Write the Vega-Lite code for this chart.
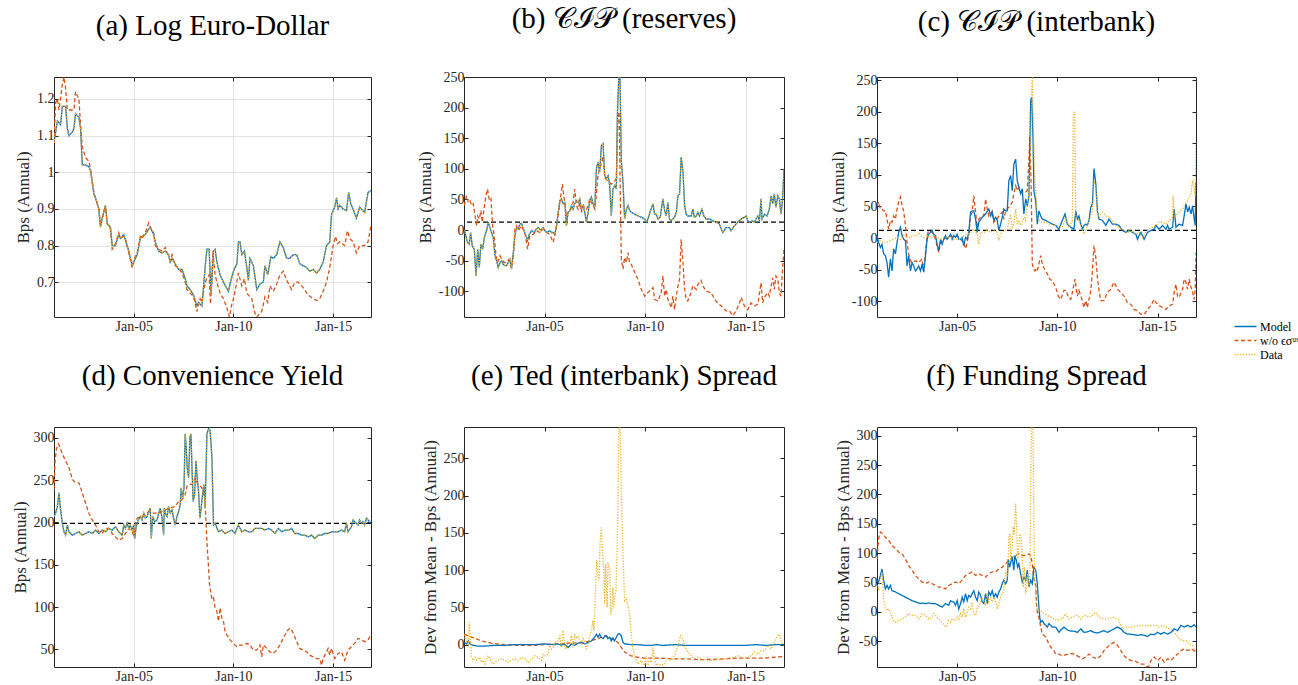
{
"$schema": "https://vega.github.io/schema/vega-lite/v6.json",
"padding": {"left": 10, "top": 4, "right": 5, "bottom": 5},
"background": "white",
"config": {
  "font": "Liberation Serif",
  "view": {"stroke": "#262626", "strokeWidth": 1},
  "axis": {"domain": false, "tickColor": "#262626", "tickSize": -4, "labelFont": "Liberation Serif", "labelFontSize": 14, "labelColor": "#262626", "titleFont": "Liberation Serif", "titleFontSize": 17, "titleFontWeight": "normal", "titleColor": "#262626", "gridColor": "#e3e3e3", "labelPadding": 4},
  "axisBottom": {"labelPadding": 6},
  "title": {"font": "Liberation Serif", "fontSize": 29, "fontWeight": "normal", "color": "#000000", "offset": 36, "baseline": "alphabetic"},
  "legend": {"orient": "none", "legendX": 362, "legendY": 243, "title": null, "symbolType": "M-2,0H2", "symbolSize": 121, "symbolStrokeWidth": 1.3, "labelFont": "Liberation Serif", "labelFontSize": 12, "labelColor": "#000000", "rowPadding": 1, "padding": 0, "labelOffset": 8}
},
"datasets": {
"a_m": [{"t":2001,"v":1.08},{"t":2001.17,"v":1.14},{"t":2001.33,"v":1.13},{"t":2001.42,"v":1.18},{"t":2001.58,"v":1.18},{"t":2001.67,"v":1.12},{"t":2001.75,"v":1.1},{"t":2001.92,"v":1.11},{"t":2002,"v":1.12},{"t":2002.08,"v":1.16},{"t":2002.25,"v":1.15},{"t":2002.33,"v":1.12},{"t":2002.42,"v":1.02},{"t":2002.58,"v":1.02},{"t":2002.75,"v":1.015},{"t":2002.83,"v":1.005},{"t":2003,"v":0.94},{"t":2003.08,"v":0.93},{"t":2003.25,"v":0.9},{"t":2003.33,"v":0.85},{"t":2003.42,"v":0.875},{"t":2003.58,"v":0.91},{"t":2003.67,"v":0.86},{"t":2003.83,"v":0.85},{"t":2003.92,"v":0.8},{"t":2004.08,"v":0.8},{"t":2004.25,"v":0.83},{"t":2004.33,"v":0.82},{"t":2004.5,"v":0.83},{"t":2004.58,"v":0.815},{"t":2004.75,"v":0.785},{"t":2004.92,"v":0.745},{"t":2005,"v":0.755},{"t":2005.17,"v":0.775},{"t":2005.33,"v":0.82},{"t":2005.42,"v":0.825},{"t":2005.58,"v":0.83},{"t":2005.75,"v":0.845},{"t":2005.83,"v":0.85},{"t":2006,"v":0.83},{"t":2006.08,"v":0.81},{"t":2006.25,"v":0.785},{"t":2006.42,"v":0.78},{"t":2006.58,"v":0.785},{"t":2006.75,"v":0.775},{"t":2006.83,"v":0.755},{"t":2006.92,"v":0.765},{"t":2007.08,"v":0.75},{"t":2007.25,"v":0.735},{"t":2007.42,"v":0.735},{"t":2007.58,"v":0.71},{"t":2007.67,"v":0.69},{"t":2007.83,"v":0.68},{"t":2008,"v":0.665},{"t":2008.17,"v":0.635},{"t":2008.25,"v":0.645},{"t":2008.42,"v":0.635},{"t":2008.58,"v":0.74},{"t":2008.67,"v":0.79},{"t":2008.78,"v":0.79},{"t":2008.88,"v":0.665},{"t":2009,"v":0.785},{"t":2009.08,"v":0.79},{"t":2009.17,"v":0.755},{"t":2009.33,"v":0.72},{"t":2009.5,"v":0.7},{"t":2009.75,"v":0.675},{"t":2009.83,"v":0.695},{"t":2010,"v":0.73},{"t":2010.17,"v":0.75},{"t":2010.25,"v":0.81},{"t":2010.33,"v":0.81},{"t":2010.42,"v":0.775},{"t":2010.55,"v":0.785},{"t":2010.67,"v":0.74},{"t":2010.75,"v":0.705},{"t":2010.83,"v":0.765},{"t":2011,"v":0.745},{"t":2011.17,"v":0.68},{"t":2011.33,"v":0.695},{"t":2011.5,"v":0.7},{"t":2011.58,"v":0.745},{"t":2011.72,"v":0.72},{"t":2011.88,"v":0.77},{"t":2012,"v":0.765},{"t":2012.17,"v":0.775},{"t":2012.33,"v":0.81},{"t":2012.5,"v":0.795},{"t":2012.67,"v":0.765},{"t":2012.83,"v":0.765},{"t":2013,"v":0.775},{"t":2013.17,"v":0.775},{"t":2013.33,"v":0.75},{"t":2013.5,"v":0.745},{"t":2013.67,"v":0.74},{"t":2013.83,"v":0.73},{"t":2014,"v":0.735},{"t":2014.17,"v":0.725},{"t":2014.33,"v":0.735},{"t":2014.5,"v":0.755},{"t":2014.67,"v":0.8},{"t":2014.83,"v":0.81},{"t":2014.92,"v":0.885},{"t":2015.08,"v":0.905},{"t":2015.17,"v":0.93},{"t":2015.25,"v":0.9},{"t":2015.33,"v":0.91},{"t":2015.5,"v":0.9},{"t":2015.67,"v":0.895},{"t":2015.78,"v":0.945},{"t":2015.88,"v":0.915},{"t":2016,"v":0.9},{"t":2016.17,"v":0.875},{"t":2016.33,"v":0.905},{"t":2016.5,"v":0.895},{"t":2016.58,"v":0.89},{"t":2016.75,"v":0.945},{"t":2016.9,"v":0.95}],
"a_w": [{"t":2001,"v":1.08},{"t":2001.08,"v":1.19},{"t":2001.17,"v":1.2},{"t":2001.25,"v":1.17},{"t":2001.42,"v":1.24},{"t":2001.5,"v":1.26},{"t":2001.58,"v":1.23},{"t":2001.67,"v":1.17},{"t":2001.83,"v":1.17},{"t":2002,"v":1.17},{"t":2002.08,"v":1.22},{"t":2002.25,"v":1.2},{"t":2002.33,"v":1.13},{"t":2002.42,"v":1.07},{"t":2002.58,"v":1.04},{"t":2002.75,"v":1.03},{"t":2002.83,"v":1.01},{"t":2003,"v":0.945},{"t":2003.08,"v":0.93},{"t":2003.25,"v":0.9},{"t":2003.33,"v":0.855},{"t":2003.42,"v":0.875},{"t":2003.58,"v":0.905},{"t":2003.67,"v":0.86},{"t":2003.83,"v":0.845},{"t":2003.92,"v":0.79},{"t":2004.08,"v":0.805},{"t":2004.25,"v":0.835},{"t":2004.33,"v":0.82},{"t":2004.5,"v":0.825},{"t":2004.58,"v":0.82},{"t":2004.75,"v":0.78},{"t":2004.92,"v":0.74},{"t":2005,"v":0.76},{"t":2005.17,"v":0.78},{"t":2005.33,"v":0.825},{"t":2005.42,"v":0.82},{"t":2005.58,"v":0.835},{"t":2005.75,"v":0.862},{"t":2005.83,"v":0.85},{"t":2006,"v":0.835},{"t":2006.08,"v":0.8},{"t":2006.25,"v":0.79},{"t":2006.42,"v":0.785},{"t":2006.58,"v":0.795},{"t":2006.75,"v":0.77},{"t":2006.83,"v":0.76},{"t":2006.92,"v":0.775},{"t":2007.08,"v":0.745},{"t":2007.25,"v":0.74},{"t":2007.42,"v":0.725},{"t":2007.58,"v":0.7},{"t":2007.67,"v":0.68},{"t":2007.83,"v":0.67},{"t":2008,"v":0.66},{"t":2008.17,"v":0.62},{"t":2008.33,"v":0.655},{"t":2008.42,"v":0.645},{"t":2008.58,"v":0.7},{"t":2008.67,"v":0.71},{"t":2008.78,"v":0.72},{"t":2008.85,"v":0.64},{"t":2008.97,"v":0.785},{"t":2009.08,"v":0.72},{"t":2009.17,"v":0.7},{"t":2009.33,"v":0.67},{"t":2009.5,"v":0.655},{"t":2009.67,"v":0.63},{"t":2009.8,"v":0.605},{"t":2009.92,"v":0.64},{"t":2010.03,"v":0.66},{"t":2010.25,"v":0.725},{"t":2010.42,"v":0.69},{"t":2010.55,"v":0.71},{"t":2010.67,"v":0.67},{"t":2010.92,"v":0.655},{"t":2011.08,"v":0.615},{"t":2011.17,"v":0.605},{"t":2011.42,"v":0.62},{"t":2011.58,"v":0.66},{"t":2011.72,"v":0.645},{"t":2011.83,"v":0.69},{"t":2012,"v":0.675},{"t":2012.17,"v":0.695},{"t":2012.33,"v":0.72},{"t":2012.5,"v":0.73},{"t":2012.67,"v":0.705},{"t":2012.92,"v":0.68},{"t":2013.08,"v":0.7},{"t":2013.25,"v":0.7},{"t":2013.5,"v":0.685},{"t":2013.75,"v":0.665},{"t":2014,"v":0.655},{"t":2014.17,"v":0.65},{"t":2014.33,"v":0.655},{"t":2014.5,"v":0.675},{"t":2014.67,"v":0.7},{"t":2014.83,"v":0.74},{"t":2015,"v":0.8},{"t":2015.12,"v":0.825},{"t":2015.22,"v":0.805},{"t":2015.33,"v":0.81},{"t":2015.58,"v":0.8},{"t":2015.72,"v":0.84},{"t":2015.83,"v":0.82},{"t":2016,"v":0.81},{"t":2016.17,"v":0.78},{"t":2016.33,"v":0.8},{"t":2016.58,"v":0.8},{"t":2016.75,"v":0.81},{"t":2016.9,"v":0.855}],
"b_m": [{"t":2001,"v":0},{"t":2001.05,"v":-4},{"t":2001.17,"v":-20},{"t":2001.26,"v":-23},{"t":2001.33,"v":-4},{"t":2001.41,"v":-26},{"t":2001.51,"v":-31},{"t":2001.6,"v":-75},{"t":2001.68,"v":-31},{"t":2001.76,"v":-61},{"t":2001.84,"v":-23},{"t":2001.93,"v":-31},{"t":2002.01,"v":-12},{"t":2002.12,"v":-1},{"t":2002.21,"v":13},{"t":2002.29,"v":4},{"t":2002.37,"v":-4},{"t":2002.45,"v":-12},{"t":2002.54,"v":-42},{"t":2002.62,"v":-50},{"t":2002.7,"v":-61},{"t":2002.79,"v":-53},{"t":2002.87,"v":-50},{"t":2002.95,"v":-56},{"t":2003.03,"v":-58},{"t":2003.12,"v":-58},{"t":2003.2,"v":-53},{"t":2003.28,"v":-48},{"t":2003.36,"v":-64},{"t":2003.45,"v":-37},{"t":2003.53,"v":-9},{"t":2003.61,"v":4},{"t":2003.69,"v":2},{"t":2003.78,"v":10},{"t":2003.86,"v":11},{"t":2003.94,"v":2},{"t":2004.02,"v":-4},{"t":2004.16,"v":-17},{"t":2004.24,"v":-7},{"t":2004.36,"v":-1},{"t":2004.49,"v":-4},{"t":2004.6,"v":2},{"t":2004.69,"v":4},{"t":2004.82,"v":-1},{"t":2004.93,"v":4},{"t":2005.02,"v":-1},{"t":2005.13,"v":-4},{"t":2005.26,"v":-1},{"t":2005.35,"v":-4},{"t":2005.43,"v":-4},{"t":2005.51,"v":-7},{"t":2005.6,"v":7},{"t":2005.68,"v":29},{"t":2005.76,"v":48},{"t":2005.84,"v":51},{"t":2005.93,"v":43},{"t":2006.01,"v":45},{"t":2006.09,"v":7},{"t":2006.17,"v":29},{"t":2006.26,"v":32},{"t":2006.34,"v":40},{"t":2006.42,"v":34},{"t":2006.5,"v":43},{"t":2006.59,"v":48},{"t":2006.67,"v":45},{"t":2006.75,"v":51},{"t":2006.83,"v":34},{"t":2006.92,"v":40},{"t":2007,"v":29},{"t":2007.08,"v":13},{"t":2007.17,"v":29},{"t":2007.25,"v":48},{"t":2007.33,"v":54},{"t":2007.41,"v":43},{"t":2007.5,"v":37},{"t":2007.58,"v":100},{"t":2007.66,"v":111},{"t":2007.74,"v":95},{"t":2007.83,"v":138},{"t":2007.91,"v":141},{"t":2007.99,"v":89},{"t":2008.07,"v":84},{"t":2008.16,"v":89},{"t":2008.24,"v":73},{"t":2008.32,"v":23},{"t":2008.4,"v":67},{"t":2008.49,"v":73},{"t":2008.57,"v":67},{"t":2008.62,"v":187},{"t":2008.69,"v":250},{"t":2008.75,"v":248},{"t":2008.82,"v":111},{"t":2008.9,"v":78},{"t":2008.98,"v":18},{"t":2009.07,"v":34},{"t":2009.15,"v":40},{"t":2009.23,"v":32},{"t":2009.31,"v":29},{"t":2009.48,"v":26},{"t":2009.64,"v":23},{"t":2009.81,"v":21},{"t":2009.98,"v":18},{"t":2010.06,"v":13},{"t":2010.14,"v":18},{"t":2010.27,"v":32},{"t":2010.39,"v":43},{"t":2010.47,"v":26},{"t":2010.55,"v":26},{"t":2010.64,"v":18},{"t":2010.75,"v":21},{"t":2010.88,"v":51},{"t":2010.97,"v":32},{"t":2011.05,"v":23},{"t":2011.13,"v":45},{"t":2011.21,"v":18},{"t":2011.3,"v":15},{"t":2011.38,"v":18},{"t":2011.46,"v":21},{"t":2011.55,"v":29},{"t":2011.63,"v":56},{"t":2011.71,"v":59},{"t":2011.79,"v":119},{"t":2011.88,"v":95},{"t":2011.96,"v":40},{"t":2012.04,"v":26},{"t":2012.12,"v":23},{"t":2012.29,"v":23},{"t":2012.37,"v":34},{"t":2012.45,"v":21},{"t":2012.54,"v":23},{"t":2012.62,"v":29},{"t":2012.7,"v":23},{"t":2012.82,"v":34},{"t":2012.92,"v":23},{"t":2013.03,"v":18},{"t":2013.2,"v":18},{"t":2013.36,"v":15},{"t":2013.53,"v":13},{"t":2013.69,"v":10},{"t":2013.78,"v":2},{"t":2013.86,"v":-4},{"t":2014.02,"v":4},{"t":2014.19,"v":4},{"t":2014.27,"v":-1},{"t":2014.44,"v":7},{"t":2014.6,"v":13},{"t":2014.77,"v":18},{"t":2014.93,"v":21},{"t":2015.02,"v":23},{"t":2015.1,"v":15},{"t":2015.18,"v":13},{"t":2015.35,"v":15},{"t":2015.43,"v":13},{"t":2015.51,"v":18},{"t":2015.6,"v":23},{"t":2015.68,"v":15},{"t":2015.76,"v":51},{"t":2015.81,"v":18},{"t":2015.93,"v":26},{"t":2016.06,"v":23},{"t":2016.17,"v":34},{"t":2016.26,"v":56},{"t":2016.34,"v":43},{"t":2016.42,"v":59},{"t":2016.5,"v":37},{"t":2016.59,"v":56},{"t":2016.67,"v":51},{"t":2016.75,"v":26},{"t":2016.83,"v":51},{"t":2016.9,"v":100}],
"b_w": [{"t":2001,"v":40},{"t":2001.05,"v":45},{"t":2001.13,"v":56},{"t":2001.21,"v":45},{"t":2001.3,"v":48},{"t":2001.38,"v":40},{"t":2001.46,"v":43},{"t":2001.55,"v":23},{"t":2001.63,"v":7},{"t":2001.68,"v":23},{"t":2001.76,"v":18},{"t":2001.84,"v":32},{"t":2001.91,"v":13},{"t":2001.99,"v":34},{"t":2002.09,"v":56},{"t":2002.17,"v":67},{"t":2002.26,"v":48},{"t":2002.34,"v":51},{"t":2002.42,"v":7},{"t":2002.5,"v":-9},{"t":2002.59,"v":-42},{"t":2002.67,"v":-53},{"t":2002.79,"v":-42},{"t":2002.87,"v":-48},{"t":2003,"v":-53},{"t":2003.12,"v":-53},{"t":2003.23,"v":-48},{"t":2003.36,"v":-61},{"t":2003.45,"v":-45},{"t":2003.53,"v":2},{"t":2003.61,"v":7},{"t":2003.69,"v":-1},{"t":2003.86,"v":7},{"t":2004.02,"v":-4},{"t":2004.16,"v":-31},{"t":2004.27,"v":-9},{"t":2004.44,"v":-7},{"t":2004.6,"v":-1},{"t":2004.77,"v":-4},{"t":2004.93,"v":2},{"t":2005.1,"v":-4},{"t":2005.26,"v":-7},{"t":2005.43,"v":-20},{"t":2005.51,"v":-9},{"t":2005.64,"v":13},{"t":2005.76,"v":45},{"t":2005.89,"v":75},{"t":2005.98,"v":51},{"t":2006.09,"v":23},{"t":2006.17,"v":29},{"t":2006.31,"v":34},{"t":2006.42,"v":45},{"t":2006.5,"v":67},{"t":2006.59,"v":40},{"t":2006.67,"v":34},{"t":2006.75,"v":45},{"t":2006.83,"v":29},{"t":2006.92,"v":40},{"t":2007,"v":37},{"t":2007.08,"v":34},{"t":2007.17,"v":40},{"t":2007.25,"v":51},{"t":2007.33,"v":45},{"t":2007.41,"v":40},{"t":2007.5,"v":34},{"t":2007.58,"v":60},{"t":2007.66,"v":90},{"t":2007.83,"v":110},{"t":2007.91,"v":120},{"t":2008,"v":85},{"t":2008.16,"v":80},{"t":2008.32,"v":75},{"t":2008.49,"v":80},{"t":2008.57,"v":85},{"t":2008.65,"v":185},{"t":2008.71,"v":193},{"t":2008.77,"v":45},{"t":2008.82,"v":-48},{"t":2008.9,"v":-64},{"t":2008.98,"v":-45},{"t":2009.07,"v":-53},{"t":2009.15,"v":-37},{"t":2009.23,"v":-53},{"t":2009.31,"v":-56},{"t":2009.48,"v":-69},{"t":2009.64,"v":-80},{"t":2009.81,"v":-97},{"t":2009.98,"v":-108},{"t":2010.14,"v":-102},{"t":2010.31,"v":-97},{"t":2010.39,"v":-94},{"t":2010.47,"v":-113},{"t":2010.64,"v":-116},{"t":2010.8,"v":-102},{"t":2010.88,"v":-75},{"t":2010.97,"v":-108},{"t":2011.05,"v":-97},{"t":2011.13,"v":-113},{"t":2011.21,"v":-119},{"t":2011.3,"v":-127},{"t":2011.38,"v":-108},{"t":2011.46,"v":-130},{"t":2011.55,"v":-108},{"t":2011.63,"v":-91},{"t":2011.71,"v":-80},{"t":2011.79,"v":-15},{"t":2011.88,"v":-53},{"t":2011.96,"v":-97},{"t":2012.04,"v":-113},{"t":2012.12,"v":-116},{"t":2012.21,"v":-108},{"t":2012.29,"v":-102},{"t":2012.37,"v":-91},{"t":2012.54,"v":-97},{"t":2012.62,"v":-89},{"t":2012.78,"v":-82},{"t":2012.87,"v":-91},{"t":2013.03,"v":-100},{"t":2013.28,"v":-102},{"t":2013.45,"v":-113},{"t":2013.61,"v":-119},{"t":2013.78,"v":-124},{"t":2014.02,"v":-132},{"t":2014.19,"v":-132},{"t":2014.36,"v":-140},{"t":2014.52,"v":-132},{"t":2014.69,"v":-119},{"t":2014.77,"v":-110},{"t":2014.93,"v":-124},{"t":2015.1,"v":-130},{"t":2015.26,"v":-119},{"t":2015.43,"v":-124},{"t":2015.6,"v":-121},{"t":2015.76,"v":-86},{"t":2015.84,"v":-119},{"t":2015.93,"v":-110},{"t":2016.09,"v":-102},{"t":2016.17,"v":-108},{"t":2016.26,"v":-91},{"t":2016.34,"v":-78},{"t":2016.42,"v":-97},{"t":2016.5,"v":-75},{"t":2016.59,"v":-80},{"t":2016.67,"v":-102},{"t":2016.75,"v":-108},{"t":2016.83,"v":-64},{"t":2016.9,"v":-31}],
"c_m": [{"t":2001,"v":4},{"t":2001.08,"v":-7},{"t":2001.17,"v":-15},{"t":2001.25,"v":-10},{"t":2001.33,"v":-25},{"t":2001.42,"v":-28},{"t":2001.5,"v":-39},{"t":2001.58,"v":-62},{"t":2001.67,"v":-33},{"t":2001.75,"v":-52},{"t":2001.83,"v":-17},{"t":2001.92,"v":-25},{"t":2002,"v":-7},{"t":2002.08,"v":9},{"t":2002.17,"v":17},{"t":2002.25,"v":4},{"t":2002.33,"v":-2},{"t":2002.42,"v":-4},{"t":2002.5,"v":-44},{"t":2002.58,"v":-28},{"t":2002.67,"v":-52},{"t":2002.75,"v":-39},{"t":2002.83,"v":-44},{"t":2002.92,"v":-52},{"t":2003,"v":-49},{"t":2003.08,"v":-44},{"t":2003.17,"v":-52},{"t":2003.25,"v":-41},{"t":2003.33,"v":-54},{"t":2003.42,"v":-28},{"t":2003.5,"v":-2},{"t":2003.58,"v":6},{"t":2003.67,"v":9},{"t":2003.75,"v":12},{"t":2003.83,"v":6},{"t":2003.92,"v":4},{"t":2004,"v":-10},{"t":2004.08,"v":-20},{"t":2004.17,"v":-2},{"t":2004.25,"v":-10},{"t":2004.33,"v":-2},{"t":2004.42,"v":4},{"t":2004.5,"v":-2},{"t":2004.58,"v":1},{"t":2004.67,"v":6},{"t":2004.75,"v":-2},{"t":2004.83,"v":4},{"t":2004.92,"v":1},{"t":2005,"v":6},{"t":2005.08,"v":-2},{"t":2005.17,"v":-2},{"t":2005.25,"v":1},{"t":2005.33,"v":-12},{"t":2005.42,"v":1},{"t":2005.5,"v":-2},{"t":2005.58,"v":9},{"t":2005.67,"v":41},{"t":2005.75,"v":43},{"t":2005.83,"v":43},{"t":2005.92,"v":30},{"t":2006,"v":9},{"t":2006.08,"v":25},{"t":2006.25,"v":33},{"t":2006.42,"v":38},{"t":2006.58,"v":46},{"t":2006.67,"v":35},{"t":2006.75,"v":41},{"t":2006.83,"v":28},{"t":2006.92,"v":33},{"t":2007,"v":28},{"t":2007.08,"v":12},{"t":2007.17,"v":22},{"t":2007.25,"v":33},{"t":2007.33,"v":46},{"t":2007.42,"v":43},{"t":2007.5,"v":43},{"t":2007.58,"v":91},{"t":2007.67,"v":99},{"t":2007.75,"v":75},{"t":2007.83,"v":117},{"t":2007.92,"v":125},{"t":2008,"v":91},{"t":2008.08,"v":80},{"t":2008.17,"v":70},{"t":2008.25,"v":78},{"t":2008.33,"v":38},{"t":2008.42,"v":62},{"t":2008.5,"v":51},{"t":2008.58,"v":65},{"t":2008.67,"v":218},{"t":2008.72,"v":223},{"t":2008.79,"v":154},{"t":2008.83,"v":75},{"t":2008.92,"v":59},{"t":2009,"v":22},{"t":2009.08,"v":43},{"t":2009.17,"v":35},{"t":2009.25,"v":30},{"t":2009.42,"v":28},{"t":2009.58,"v":25},{"t":2009.75,"v":22},{"t":2009.92,"v":20},{"t":2010.08,"v":14},{"t":2010.25,"v":28},{"t":2010.38,"v":38},{"t":2010.5,"v":22},{"t":2010.67,"v":17},{"t":2010.83,"v":14},{"t":2010.92,"v":43},{"t":2011,"v":30},{"t":2011.08,"v":35},{"t":2011.17,"v":22},{"t":2011.25,"v":14},{"t":2011.33,"v":20},{"t":2011.42,"v":22},{"t":2011.5,"v":20},{"t":2011.58,"v":28},{"t":2011.67,"v":49},{"t":2011.75,"v":54},{"t":2011.83,"v":110},{"t":2011.92,"v":86},{"t":2012,"v":43},{"t":2012.08,"v":30},{"t":2012.25,"v":28},{"t":2012.42,"v":20},{"t":2012.58,"v":30},{"t":2012.75,"v":22},{"t":2012.92,"v":22},{"t":2013.08,"v":20},{"t":2013.25,"v":12},{"t":2013.42,"v":9},{"t":2013.58,"v":12},{"t":2013.75,"v":9},{"t":2013.92,"v":6},{"t":2014,"v":-2},{"t":2014.08,"v":4},{"t":2014.17,"v":9},{"t":2014.25,"v":4},{"t":2014.33,"v":-2},{"t":2014.5,"v":9},{"t":2014.67,"v":12},{"t":2014.83,"v":14},{"t":2014.92,"v":20},{"t":2015,"v":17},{"t":2015.08,"v":14},{"t":2015.25,"v":20},{"t":2015.42,"v":14},{"t":2015.5,"v":20},{"t":2015.58,"v":14},{"t":2015.75,"v":17},{"t":2015.83,"v":46},{"t":2015.92,"v":17},{"t":2016.08,"v":22},{"t":2016.25,"v":20},{"t":2016.33,"v":35},{"t":2016.42,"v":54},{"t":2016.5,"v":41},{"t":2016.58,"v":49},{"t":2016.67,"v":38},{"t":2016.75,"v":51},{"t":2016.83,"v":30},{"t":2016.88,"v":20},{"t":2016.92,"v":88}],
"c_w": [{"t":2001,"v":51},{"t":2001.08,"v":57},{"t":2001.17,"v":46},{"t":2001.25,"v":46},{"t":2001.33,"v":43},{"t":2001.42,"v":43},{"t":2001.5,"v":30},{"t":2001.58,"v":14},{"t":2001.67,"v":28},{"t":2001.75,"v":25},{"t":2001.83,"v":35},{"t":2001.92,"v":30},{"t":2002,"v":46},{"t":2002.08,"v":57},{"t":2002.17,"v":65},{"t":2002.25,"v":51},{"t":2002.33,"v":43},{"t":2002.42,"v":20},{"t":2002.5,"v":-7},{"t":2002.58,"v":-25},{"t":2002.67,"v":-36},{"t":2002.75,"v":-39},{"t":2002.92,"v":-36},{"t":2003.08,"v":-39},{"t":2003.25,"v":-33},{"t":2003.33,"v":-52},{"t":2003.42,"v":-23},{"t":2003.5,"v":4},{"t":2003.58,"v":12},{"t":2003.75,"v":9},{"t":2003.92,"v":-2},{"t":2004.08,"v":-23},{"t":2004.17,"v":-7},{"t":2004.33,"v":-2},{"t":2004.5,"v":1},{"t":2004.67,"v":4},{"t":2004.83,"v":1},{"t":2005,"v":4},{"t":2005.17,"v":-2},{"t":2005.33,"v":-7},{"t":2005.42,"v":-17},{"t":2005.5,"v":-7},{"t":2005.58,"v":6},{"t":2005.67,"v":35},{"t":2005.75,"v":41},{"t":2005.83,"v":67},{"t":2005.92,"v":41},{"t":2006,"v":17},{"t":2006.08,"v":30},{"t":2006.25,"v":35},{"t":2006.33,"v":35},{"t":2006.42,"v":62},{"t":2006.5,"v":46},{"t":2006.58,"v":35},{"t":2006.75,"v":43},{"t":2006.83,"v":25},{"t":2006.92,"v":30},{"t":2007,"v":30},{"t":2007.08,"v":35},{"t":2007.25,"v":41},{"t":2007.33,"v":30},{"t":2007.42,"v":43},{"t":2007.58,"v":49},{"t":2007.75,"v":57},{"t":2007.83,"v":70},{"t":2007.92,"v":83},{"t":2008,"v":75},{"t":2008.08,"v":80},{"t":2008.17,"v":73},{"t":2008.25,"v":75},{"t":2008.42,"v":73},{"t":2008.5,"v":75},{"t":2008.58,"v":123},{"t":2008.63,"v":160},{"t":2008.7,"v":70},{"t":2008.75,"v":-41},{"t":2008.8,"v":-47},{"t":2008.88,"v":-52},{"t":2008.95,"v":-49},{"t":2009,"v":-52},{"t":2009.08,"v":-41},{"t":2009.17,"v":-28},{"t":2009.25,"v":-41},{"t":2009.33,"v":-47},{"t":2009.42,"v":-52},{"t":2009.5,"v":-57},{"t":2009.62,"v":-65},{"t":2009.75,"v":-68},{"t":2009.92,"v":-78},{"t":2010.05,"v":-92},{"t":2010.17,"v":-97},{"t":2010.33,"v":-83},{"t":2010.45,"v":-83},{"t":2010.55,"v":-94},{"t":2010.67,"v":-97},{"t":2010.75,"v":-86},{"t":2010.88,"v":-65},{"t":2011,"v":-92},{"t":2011.08,"v":-83},{"t":2011.2,"v":-94},{"t":2011.33,"v":-110},{"t":2011.42,"v":-99},{"t":2011.5,"v":-110},{"t":2011.58,"v":-97},{"t":2011.67,"v":-83},{"t":2011.75,"v":-52},{"t":2011.83,"v":-12},{"t":2011.92,"v":-31},{"t":2012,"v":-62},{"t":2012.08,"v":-83},{"t":2012.17,"v":-99},{"t":2012.33,"v":-99},{"t":2012.5,"v":-86},{"t":2012.67,"v":-81},{"t":2012.83,"v":-70},{"t":2013,"v":-81},{"t":2013.17,"v":-86},{"t":2013.33,"v":-92},{"t":2013.5,"v":-102},{"t":2013.67,"v":-105},{"t":2013.83,"v":-113},{"t":2014,"v":-115},{"t":2014.17,"v":-121},{"t":2014.33,"v":-121},{"t":2014.5,"v":-113},{"t":2014.67,"v":-107},{"t":2014.83,"v":-97},{"t":2014.92,"v":-102},{"t":2015.08,"v":-107},{"t":2015.25,"v":-110},{"t":2015.42,"v":-113},{"t":2015.58,"v":-107},{"t":2015.75,"v":-105},{"t":2015.83,"v":-86},{"t":2015.92,"v":-73},{"t":2016,"v":-92},{"t":2016.08,"v":-94},{"t":2016.17,"v":-86},{"t":2016.25,"v":-81},{"t":2016.33,"v":-65},{"t":2016.42,"v":-70},{"t":2016.5,"v":-81},{"t":2016.58,"v":-65},{"t":2016.67,"v":-78},{"t":2016.75,"v":-86},{"t":2016.83,"v":-97},{"t":2016.88,"v":-81},{"t":2016.92,"v":-23}],
"c_d": [{"t":2001,"v":-7},{"t":2001.17,"v":-4},{"t":2001.33,"v":-7},{"t":2001.5,"v":-7},{"t":2001.67,"v":-4},{"t":2001.83,"v":-2},{"t":2002,"v":1},{"t":2002.17,"v":-2},{"t":2002.33,"v":4},{"t":2002.5,"v":1},{"t":2002.67,"v":1},{"t":2002.83,"v":4},{"t":2003,"v":4},{"t":2003.08,"v":9},{"t":2003.17,"v":4},{"t":2003.33,"v":1},{"t":2003.5,"v":4},{"t":2003.67,"v":1},{"t":2003.83,"v":4},{"t":2004,"v":1},{"t":2004.17,"v":-2},{"t":2004.33,"v":1},{"t":2004.5,"v":1},{"t":2004.67,"v":1},{"t":2004.83,"v":-2},{"t":2005,"v":-2},{"t":2005.17,"v":-2},{"t":2005.33,"v":4},{"t":2005.5,"v":6},{"t":2005.67,"v":9},{"t":2005.83,"v":14},{"t":2006,"v":6},{"t":2006.08,"v":-10},{"t":2006.17,"v":9},{"t":2006.33,"v":9},{"t":2006.5,"v":12},{"t":2006.67,"v":9},{"t":2006.83,"v":12},{"t":2007,"v":9},{"t":2007.08,"v":-4},{"t":2007.17,"v":6},{"t":2007.33,"v":12},{"t":2007.5,"v":12},{"t":2007.58,"v":28},{"t":2007.67,"v":35},{"t":2007.75,"v":17},{"t":2007.83,"v":22},{"t":2007.92,"v":46},{"t":2008,"v":22},{"t":2008.08,"v":28},{"t":2008.17,"v":20},{"t":2008.33,"v":33},{"t":2008.42,"v":28},{"t":2008.5,"v":54},{"t":2008.58,"v":70},{"t":2008.67,"v":139},{"t":2008.72,"v":223},{"t":2008.75,"v":262},{"t":2008.8,"v":176},{"t":2008.88,"v":91},{"t":2008.95,"v":65},{"t":2009,"v":33},{"t":2009.08,"v":28},{"t":2009.25,"v":25},{"t":2009.42,"v":25},{"t":2009.58,"v":22},{"t":2009.92,"v":20},{"t":2010.25,"v":17},{"t":2010.42,"v":33},{"t":2010.58,"v":17},{"t":2010.75,"v":28},{"t":2010.8,"v":199},{"t":2010.87,"v":199},{"t":2010.92,"v":33},{"t":2011.08,"v":28},{"t":2011.25,"v":12},{"t":2011.33,"v":6},{"t":2011.42,"v":14},{"t":2011.58,"v":28},{"t":2011.75,"v":43},{"t":2011.83,"v":91},{"t":2011.92,"v":80},{"t":2012,"v":38},{"t":2012.08,"v":35},{"t":2012.25,"v":41},{"t":2012.42,"v":35},{"t":2012.58,"v":33},{"t":2012.75,"v":28},{"t":2012.92,"v":20},{"t":2013.08,"v":17},{"t":2013.25,"v":14},{"t":2013.42,"v":12},{"t":2013.58,"v":9},{"t":2013.75,"v":12},{"t":2013.92,"v":6},{"t":2014.08,"v":9},{"t":2014.25,"v":1},{"t":2014.42,"v":9},{"t":2014.58,"v":14},{"t":2014.75,"v":17},{"t":2014.92,"v":20},{"t":2015.08,"v":25},{"t":2015.25,"v":25},{"t":2015.42,"v":22},{"t":2015.58,"v":28},{"t":2015.67,"v":30},{"t":2015.75,"v":33},{"t":2015.78,"v":67},{"t":2015.83,"v":33},{"t":2015.92,"v":35},{"t":2016.08,"v":41},{"t":2016.25,"v":46},{"t":2016.42,"v":57},{"t":2016.5,"v":59},{"t":2016.58,"v":65},{"t":2016.67,"v":70},{"t":2016.75,"v":91},{"t":2016.83,"v":80},{"t":2016.88,"v":67},{"t":2016.92,"v":147}],
"d_m": [{"t":2001,"v":207},{"t":2001.08,"v":211},{"t":2001.17,"v":219},{"t":2001.25,"v":235},{"t":2001.33,"v":215},{"t":2001.42,"v":199},{"t":2001.5,"v":189},{"t":2001.58,"v":185},{"t":2001.67,"v":197},{"t":2001.75,"v":189},{"t":2001.92,"v":185},{"t":2002.08,"v":187},{"t":2002.25,"v":189},{"t":2002.42,"v":185},{"t":2002.58,"v":187},{"t":2002.75,"v":189},{"t":2002.92,"v":187},{"t":2003.08,"v":191},{"t":2003.25,"v":187},{"t":2003.42,"v":191},{"t":2003.58,"v":189},{"t":2003.75,"v":193},{"t":2003.92,"v":191},{"t":2004.08,"v":195},{"t":2004.25,"v":189},{"t":2004.42,"v":185},{"t":2004.5,"v":197},{"t":2004.58,"v":193},{"t":2004.67,"v":199},{"t":2004.75,"v":193},{"t":2004.83,"v":197},{"t":2004.92,"v":191},{"t":2005,"v":197},{"t":2005.05,"v":181},{"t":2005.12,"v":195},{"t":2005.22,"v":203},{"t":2005.33,"v":207},{"t":2005.42,"v":203},{"t":2005.5,"v":211},{"t":2005.58,"v":205},{"t":2005.67,"v":207},{"t":2005.75,"v":213},{"t":2005.83,"v":217},{"t":2005.88,"v":181},{"t":2005.95,"v":207},{"t":2006.05,"v":201},{"t":2006.17,"v":203},{"t":2006.25,"v":211},{"t":2006.33,"v":217},{"t":2006.42,"v":205},{"t":2006.5,"v":185},{"t":2006.53,"v":217},{"t":2006.58,"v":211},{"t":2006.67,"v":207},{"t":2006.75,"v":219},{"t":2006.83,"v":211},{"t":2006.92,"v":215},{"t":2007,"v":205},{"t":2007.08,"v":197},{"t":2007.17,"v":207},{"t":2007.25,"v":213},{"t":2007.33,"v":221},{"t":2007.38,"v":241},{"t":2007.45,"v":229},{"t":2007.52,"v":241},{"t":2007.58,"v":305},{"t":2007.63,"v":289},{"t":2007.68,"v":265},{"t":2007.75,"v":253},{"t":2007.82,"v":301},{"t":2007.87,"v":305},{"t":2007.92,"v":265},{"t":2007.98,"v":225},{"t":2008.05,"v":233},{"t":2008.12,"v":273},{"t":2008.18,"v":253},{"t":2008.25,"v":237},{"t":2008.32,"v":205},{"t":2008.38,"v":217},{"t":2008.45,"v":233},{"t":2008.52,"v":245},{"t":2008.58,"v":217},{"t":2008.67,"v":305},{"t":2008.75,"v":311},{"t":2008.83,"v":309},{"t":2008.92,"v":277},{"t":2009,"v":197},{"t":2009.08,"v":199},{"t":2009.25,"v":189},{"t":2009.42,"v":191},{"t":2009.58,"v":187},{"t":2009.75,"v":189},{"t":2009.92,"v":191},{"t":2010.08,"v":187},{"t":2010.25,"v":197},{"t":2010.42,"v":189},{"t":2010.58,"v":191},{"t":2010.75,"v":189},{"t":2010.92,"v":189},{"t":2011.08,"v":193},{"t":2011.25,"v":193},{"t":2011.42,"v":193},{"t":2011.58,"v":191},{"t":2011.75,"v":193},{"t":2011.92,"v":191},{"t":2012.08,"v":187},{"t":2012.25,"v":193},{"t":2012.42,"v":189},{"t":2012.58,"v":191},{"t":2012.75,"v":191},{"t":2012.92,"v":193},{"t":2013.08,"v":187},{"t":2013.25,"v":187},{"t":2013.42,"v":185},{"t":2013.58,"v":185},{"t":2013.75,"v":183},{"t":2013.92,"v":185},{"t":2014.08,"v":181},{"t":2014.25,"v":185},{"t":2014.42,"v":185},{"t":2014.58,"v":187},{"t":2014.75,"v":187},{"t":2014.92,"v":189},{"t":2015.08,"v":189},{"t":2015.25,"v":189},{"t":2015.42,"v":191},{"t":2015.58,"v":189},{"t":2015.67,"v":199},{"t":2015.75,"v":189},{"t":2015.92,"v":195},{"t":2016,"v":203},{"t":2016.08,"v":201},{"t":2016.25,"v":197},{"t":2016.33,"v":203},{"t":2016.42,"v":199},{"t":2016.5,"v":201},{"t":2016.58,"v":197},{"t":2016.67,"v":205},{"t":2016.75,"v":203},{"t":2016.9,"v":199}],
"d_w": [{"t":2001,"v":239},{"t":2001.05,"v":271},{"t":2001.12,"v":287},{"t":2001.22,"v":293},{"t":2001.33,"v":287},{"t":2001.42,"v":281},{"t":2001.58,"v":273},{"t":2001.75,"v":265},{"t":2001.92,"v":251},{"t":2002.08,"v":247},{"t":2002.25,"v":247},{"t":2002.42,"v":235},{"t":2002.58,"v":223},{"t":2002.75,"v":211},{"t":2002.92,"v":203},{"t":2003.08,"v":197},{"t":2003.25,"v":189},{"t":2003.42,"v":187},{"t":2003.58,"v":193},{"t":2003.75,"v":193},{"t":2003.92,"v":187},{"t":2004.08,"v":183},{"t":2004.25,"v":179},{"t":2004.42,"v":181},{"t":2004.58,"v":187},{"t":2004.75,"v":193},{"t":2004.92,"v":189},{"t":2005,"v":185},{"t":2005.08,"v":199},{"t":2005.17,"v":205},{"t":2005.33,"v":207},{"t":2005.42,"v":207},{"t":2005.58,"v":209},{"t":2005.75,"v":213},{"t":2005.92,"v":211},{"t":2006.25,"v":211},{"t":2006.75,"v":217},{"t":2007.08,"v":219},{"t":2007.25,"v":225},{"t":2007.42,"v":227},{"t":2007.58,"v":233},{"t":2007.67,"v":243},{"t":2007.75,"v":245},{"t":2007.92,"v":245},{"t":2008.08,"v":253},{"t":2008.17,"v":247},{"t":2008.25,"v":245},{"t":2008.42,"v":241},{"t":2008.58,"v":225},{"t":2008.63,"v":197},{"t":2008.68,"v":173},{"t":2008.73,"v":155},{"t":2008.8,"v":127},{"t":2008.92,"v":109},{"t":2009,"v":111},{"t":2009.08,"v":99},{"t":2009.17,"v":95},{"t":2009.25,"v":83},{"t":2009.33,"v":99},{"t":2009.42,"v":87},{"t":2009.5,"v":83},{"t":2009.58,"v":71},{"t":2009.67,"v":67},{"t":2009.83,"v":61},{"t":2010,"v":57},{"t":2010.17,"v":53},{"t":2010.33,"v":55},{"t":2010.5,"v":55},{"t":2010.67,"v":57},{"t":2010.83,"v":55},{"t":2011,"v":49},{"t":2011.17,"v":49},{"t":2011.33,"v":55},{"t":2011.42,"v":41},{"t":2011.5,"v":55},{"t":2011.67,"v":51},{"t":2011.83,"v":47},{"t":2012,"v":45},{"t":2012.17,"v":49},{"t":2012.33,"v":55},{"t":2012.5,"v":63},{"t":2012.67,"v":71},{"t":2012.83,"v":75},{"t":2012.92,"v":73},{"t":2013,"v":69},{"t":2013.17,"v":59},{"t":2013.33,"v":51},{"t":2013.5,"v":49},{"t":2013.67,"v":47},{"t":2013.83,"v":43},{"t":2014,"v":41},{"t":2014.17,"v":39},{"t":2014.33,"v":39},{"t":2014.42,"v":31},{"t":2014.5,"v":39},{"t":2014.67,"v":47},{"t":2014.75,"v":51},{"t":2014.83,"v":43},{"t":2014.92,"v":51},{"t":2015.08,"v":39},{"t":2015.25,"v":45},{"t":2015.42,"v":47},{"t":2015.58,"v":37},{"t":2015.75,"v":49},{"t":2015.92,"v":53},{"t":2016.08,"v":57},{"t":2016.25,"v":63},{"t":2016.42,"v":61},{"t":2016.58,"v":59},{"t":2016.75,"v":61},{"t":2016.9,"v":67}],
"e_m": [{"t":2001,"v":3},{"t":2001.13,"v":1},{"t":2001.21,"v":5},{"t":2001.3,"v":1},{"t":2001.46,"v":-1},{"t":2001.7,"v":-2},{"t":2002,"v":-2},{"t":2002.5,"v":-1},{"t":2003,"v":-1},{"t":2003.5,"v":0},{"t":2004,"v":0},{"t":2004.5,"v":0},{"t":2005,"v":1},{"t":2005.5,"v":0},{"t":2005.68,"v":1},{"t":2005.84,"v":-1},{"t":2006,"v":1},{"t":2006.17,"v":-4},{"t":2006.34,"v":1},{"t":2006.5,"v":-1},{"t":2006.67,"v":2},{"t":2006.83,"v":3},{"t":2007,"v":1},{"t":2007.16,"v":3},{"t":2007.33,"v":5},{"t":2007.49,"v":10},{"t":2007.58,"v":14},{"t":2007.66,"v":10},{"t":2007.74,"v":14},{"t":2007.82,"v":10},{"t":2007.91,"v":8},{"t":2007.99,"v":11},{"t":2008.07,"v":12},{"t":2008.15,"v":8},{"t":2008.24,"v":10},{"t":2008.32,"v":5},{"t":2008.4,"v":9},{"t":2008.48,"v":5},{"t":2008.57,"v":10},{"t":2008.65,"v":14},{"t":2008.73,"v":15},{"t":2008.81,"v":12},{"t":2008.9,"v":3},{"t":2008.98,"v":1},{"t":2009.3,"v":0},{"t":2009.64,"v":0},{"t":2010,"v":-1},{"t":2010.3,"v":-1},{"t":2010.6,"v":0},{"t":2010.9,"v":-1},{"t":2011.5,"v":0},{"t":2012,"v":-1},{"t":2013,"v":-1},{"t":2014,"v":-1},{"t":2015,"v":-1},{"t":2015.5,"v":0},{"t":2016,"v":-1},{"t":2016.5,"v":0},{"t":2016.9,"v":0}],
"e_w": [{"t":2001,"v":14},{"t":2001.38,"v":10},{"t":2001.88,"v":5},{"t":2002.36,"v":2},{"t":2003,"v":0},{"t":2003.7,"v":-1},{"t":2004.36,"v":-1},{"t":2005.02,"v":0},{"t":2005.68,"v":1},{"t":2006.34,"v":2},{"t":2007,"v":3},{"t":2007.66,"v":8},{"t":2007.99,"v":12},{"t":2008.32,"v":8},{"t":2008.65,"v":3},{"t":2008.98,"v":-10},{"t":2009.31,"v":-15},{"t":2009.64,"v":-17},{"t":2009.98,"v":-18},{"t":2010.64,"v":-18},{"t":2011.3,"v":-19},{"t":2011.96,"v":-19},{"t":2012.62,"v":-20},{"t":2013.28,"v":-20},{"t":2013.94,"v":-19},{"t":2014.6,"v":-18},{"t":2015.26,"v":-18},{"t":2015.93,"v":-18},{"t":2016.9,"v":-16}],
"e_d": [{"t":2001,"v":8},{"t":2001.05,"v":14},{"t":2001.13,"v":3},{"t":2001.21,"v":-1},{"t":2001.26,"v":30},{"t":2001.31,"v":8},{"t":2001.38,"v":-17},{"t":2001.46,"v":-21},{"t":2001.55,"v":-17},{"t":2001.63,"v":-21},{"t":2001.71,"v":-19},{"t":2001.79,"v":-17},{"t":2001.88,"v":-24},{"t":2001.96,"v":-21},{"t":2002.04,"v":-26},{"t":2002.12,"v":-19},{"t":2002.21,"v":-15},{"t":2002.29,"v":-19},{"t":2002.37,"v":-24},{"t":2002.45,"v":-26},{"t":2002.54,"v":-24},{"t":2002.7,"v":-21},{"t":2002.87,"v":-19},{"t":2003.03,"v":-21},{"t":2003.2,"v":-24},{"t":2003.36,"v":-21},{"t":2003.53,"v":-19},{"t":2003.69,"v":-21},{"t":2003.86,"v":-17},{"t":2004.02,"v":-19},{"t":2004.19,"v":-24},{"t":2004.36,"v":-19},{"t":2004.52,"v":-15},{"t":2004.69,"v":-17},{"t":2004.85,"v":-21},{"t":2004.93,"v":-13},{"t":2005.02,"v":-15},{"t":2005.18,"v":-13},{"t":2005.26,"v":-1},{"t":2005.35,"v":-6},{"t":2005.43,"v":-4},{"t":2005.51,"v":3},{"t":2005.6,"v":5},{"t":2005.68,"v":5},{"t":2005.76,"v":12},{"t":2005.84,"v":-4},{"t":2005.92,"v":19},{"t":2006.01,"v":-4},{"t":2006.09,"v":-6},{"t":2006.17,"v":5},{"t":2006.25,"v":1},{"t":2006.34,"v":12},{"t":2006.42,"v":-4},{"t":2006.5,"v":14},{"t":2006.58,"v":8},{"t":2006.67,"v":12},{"t":2006.75,"v":5},{"t":2006.83,"v":1},{"t":2006.91,"v":8},{"t":2007,"v":5},{"t":2007.08,"v":-6},{"t":2007.16,"v":1},{"t":2007.25,"v":12},{"t":2007.33,"v":19},{"t":2007.41,"v":32},{"t":2007.46,"v":19},{"t":2007.53,"v":68},{"t":2007.59,"v":113},{"t":2007.66,"v":95},{"t":2007.71,"v":86},{"t":2007.76,"v":135},{"t":2007.82,"v":157},{"t":2007.87,"v":130},{"t":2007.94,"v":104},{"t":2007.99,"v":55},{"t":2008.04,"v":108},{"t":2008.11,"v":50},{"t":2008.16,"v":108},{"t":2008.24,"v":104},{"t":2008.29,"v":41},{"t":2008.35,"v":48},{"t":2008.4,"v":77},{"t":2008.45,"v":50},{"t":2008.49,"v":64},{"t":2008.55,"v":72},{"t":2008.6,"v":113},{"t":2008.65,"v":193},{"t":2008.7,"v":300},{"t":2008.75,"v":300},{"t":2008.82,"v":202},{"t":2008.9,"v":122},{"t":2008.98,"v":59},{"t":2009.06,"v":61},{"t":2009.15,"v":50},{"t":2009.23,"v":41},{"t":2009.31,"v":14},{"t":2009.39,"v":-4},{"t":2009.48,"v":-17},{"t":2009.64,"v":-26},{"t":2009.81,"v":-21},{"t":2009.97,"v":-28},{"t":2010.06,"v":-15},{"t":2010.14,"v":-28},{"t":2010.22,"v":-19},{"t":2010.31,"v":-24},{"t":2010.39,"v":-4},{"t":2010.47,"v":-17},{"t":2010.55,"v":-28},{"t":2010.64,"v":-26},{"t":2010.8,"v":-28},{"t":2010.97,"v":-26},{"t":2011.05,"v":-21},{"t":2011.13,"v":-19},{"t":2011.3,"v":-21},{"t":2011.46,"v":-15},{"t":2011.63,"v":-1},{"t":2011.76,"v":12},{"t":2011.88,"v":8},{"t":2011.96,"v":-1},{"t":2012.12,"v":-10},{"t":2012.29,"v":-15},{"t":2012.45,"v":-19},{"t":2012.62,"v":-17},{"t":2012.79,"v":-19},{"t":2012.95,"v":-21},{"t":2013.12,"v":-17},{"t":2013.28,"v":-21},{"t":2013.45,"v":-21},{"t":2013.61,"v":-19},{"t":2013.78,"v":-21},{"t":2013.94,"v":-19},{"t":2014.11,"v":-19},{"t":2014.27,"v":-17},{"t":2014.44,"v":-17},{"t":2014.6,"v":-15},{"t":2014.77,"v":-17},{"t":2014.93,"v":-19},{"t":2015.1,"v":-17},{"t":2015.26,"v":-15},{"t":2015.43,"v":-10},{"t":2015.6,"v":-13},{"t":2015.76,"v":-8},{"t":2015.93,"v":-8},{"t":2016.09,"v":-1},{"t":2016.26,"v":-6},{"t":2016.42,"v":3},{"t":2016.59,"v":12},{"t":2016.67,"v":14},{"t":2016.79,"v":3},{"t":2016.9,"v":-1}],
"f_m": [{"t":2001,"v":54},{"t":2001.08,"v":51},{"t":2001.17,"v":62},{"t":2001.25,"v":73},{"t":2001.33,"v":54},{"t":2001.42,"v":39},{"t":2001.5,"v":45},{"t":2001.58,"v":39},{"t":2001.67,"v":45},{"t":2001.75,"v":36},{"t":2001.92,"v":34},{"t":2002.08,"v":31},{"t":2002.25,"v":28},{"t":2002.42,"v":25},{"t":2002.58,"v":22},{"t":2002.75,"v":19},{"t":2002.92,"v":17},{"t":2003.08,"v":15},{"t":2003.17,"v":14},{"t":2003.25,"v":15},{"t":2003.42,"v":14},{"t":2003.58,"v":15},{"t":2003.75,"v":14},{"t":2003.92,"v":14},{"t":2004.08,"v":11},{"t":2004.25,"v":8},{"t":2004.33,"v":11},{"t":2004.42,"v":14},{"t":2004.58,"v":11},{"t":2004.67,"v":19},{"t":2004.75,"v":17},{"t":2004.83,"v":17},{"t":2004.92,"v":11},{"t":2005,"v":19},{"t":2005.08,"v":5},{"t":2005.17,"v":14},{"t":2005.25,"v":25},{"t":2005.33,"v":17},{"t":2005.42,"v":31},{"t":2005.5,"v":19},{"t":2005.58,"v":28},{"t":2005.67,"v":25},{"t":2005.75,"v":31},{"t":2005.83,"v":36},{"t":2005.92,"v":25},{"t":2006,"v":19},{"t":2006.08,"v":34},{"t":2006.17,"v":28},{"t":2006.25,"v":17},{"t":2006.33,"v":14},{"t":2006.42,"v":31},{"t":2006.5,"v":14},{"t":2006.58,"v":34},{"t":2006.67,"v":28},{"t":2006.75,"v":36},{"t":2006.83,"v":25},{"t":2006.92,"v":31},{"t":2007,"v":25},{"t":2007.08,"v":34},{"t":2007.17,"v":39},{"t":2007.25,"v":48},{"t":2007.33,"v":54},{"t":2007.42,"v":48},{"t":2007.5,"v":54},{"t":2007.55,"v":90},{"t":2007.62,"v":76},{"t":2007.68,"v":85},{"t":2007.75,"v":93},{"t":2007.83,"v":71},{"t":2007.88,"v":96},{"t":2007.95,"v":88},{"t":2008.02,"v":76},{"t":2008.08,"v":82},{"t":2008.17,"v":65},{"t":2008.25,"v":51},{"t":2008.33,"v":59},{"t":2008.42,"v":54},{"t":2008.5,"v":71},{"t":2008.58,"v":42},{"t":2008.67,"v":54},{"t":2008.75,"v":48},{"t":2008.83,"v":76},{"t":2008.92,"v":71},{"t":2009,"v":48},{"t":2009.08,"v":8},{"t":2009.12,"v":-9},{"t":2009.17,"v":-18},{"t":2009.25,"v":-15},{"t":2009.33,"v":-20},{"t":2009.42,"v":-23},{"t":2009.5,"v":-26},{"t":2009.58,"v":-20},{"t":2009.67,"v":-23},{"t":2009.75,"v":-26},{"t":2009.92,"v":-26},{"t":2010.08,"v":-35},{"t":2010.17,"v":-31},{"t":2010.33,"v":-26},{"t":2010.5,"v":-31},{"t":2010.67,"v":-33},{"t":2010.83,"v":-33},{"t":2011,"v":-35},{"t":2011.17,"v":-29},{"t":2011.33,"v":-35},{"t":2011.5,"v":-34},{"t":2011.67,"v":-32},{"t":2011.83,"v":-35},{"t":2012,"v":-36},{"t":2012.17,"v":-34},{"t":2012.33,"v":-32},{"t":2012.5,"v":-35},{"t":2012.67,"v":-32},{"t":2012.83,"v":-29},{"t":2013,"v":-26},{"t":2013.17,"v":-29},{"t":2013.33,"v":-35},{"t":2013.5,"v":-38},{"t":2013.67,"v":-38},{"t":2013.83,"v":-39},{"t":2014,"v":-40},{"t":2014.17,"v":-39},{"t":2014.33,"v":-40},{"t":2014.5,"v":-42},{"t":2014.67,"v":-38},{"t":2014.83,"v":-39},{"t":2015,"v":-35},{"t":2015.17,"v":-38},{"t":2015.33,"v":-35},{"t":2015.5,"v":-38},{"t":2015.67,"v":-35},{"t":2015.83,"v":-29},{"t":2016,"v":-32},{"t":2016.17,"v":-23},{"t":2016.33,"v":-26},{"t":2016.5,"v":-23},{"t":2016.67,"v":-26},{"t":2016.83,"v":-22},{"t":2016.92,"v":-26}],
"f_w": [{"t":2001,"v":90},{"t":2001.08,"v":125},{"t":2001.17,"v":136},{"t":2001.25,"v":134},{"t":2001.42,"v":127},{"t":2001.58,"v":122},{"t":2001.75,"v":113},{"t":2001.92,"v":108},{"t":2002.08,"v":102},{"t":2002.25,"v":99},{"t":2002.42,"v":90},{"t":2002.58,"v":79},{"t":2002.75,"v":71},{"t":2002.92,"v":62},{"t":2003.08,"v":56},{"t":2003.25,"v":51},{"t":2003.42,"v":48},{"t":2003.58,"v":51},{"t":2003.75,"v":48},{"t":2003.92,"v":45},{"t":2004.08,"v":42},{"t":2004.25,"v":42},{"t":2004.42,"v":39},{"t":2004.58,"v":45},{"t":2004.75,"v":48},{"t":2004.92,"v":51},{"t":2005.08,"v":48},{"t":2005.25,"v":54},{"t":2005.42,"v":62},{"t":2005.58,"v":65},{"t":2005.75,"v":68},{"t":2005.92,"v":62},{"t":2006.08,"v":65},{"t":2006.25,"v":62},{"t":2006.42,"v":59},{"t":2006.58,"v":65},{"t":2006.75,"v":68},{"t":2006.92,"v":68},{"t":2007.08,"v":73},{"t":2007.25,"v":76},{"t":2007.42,"v":82},{"t":2007.58,"v":88},{"t":2007.75,"v":93},{"t":2007.92,"v":96},{"t":2008.08,"v":99},{"t":2008.25,"v":96},{"t":2008.42,"v":96},{"t":2008.58,"v":99},{"t":2008.67,"v":96},{"t":2008.75,"v":82},{"t":2008.83,"v":56},{"t":2008.92,"v":45},{"t":2008.97,"v":5},{"t":2009.02,"v":-3},{"t":2009.08,"v":-9},{"t":2009.17,"v":-26},{"t":2009.25,"v":-38},{"t":2009.33,"v":-40},{"t":2009.42,"v":-43},{"t":2009.5,"v":-49},{"t":2009.58,"v":-55},{"t":2009.67,"v":-60},{"t":2009.75,"v":-63},{"t":2009.83,"v":-66},{"t":2009.92,"v":-72},{"t":2010.08,"v":-72},{"t":2010.25,"v":-75},{"t":2010.42,"v":-73},{"t":2010.58,"v":-72},{"t":2010.75,"v":-71},{"t":2011,"v":-75},{"t":2011.25,"v":-80},{"t":2011.42,"v":-77},{"t":2011.58,"v":-72},{"t":2011.75,"v":-77},{"t":2012,"v":-80},{"t":2012.17,"v":-75},{"t":2012.33,"v":-66},{"t":2012.5,"v":-60},{"t":2012.67,"v":-55},{"t":2012.83,"v":-52},{"t":2013,"v":-57},{"t":2013.17,"v":-66},{"t":2013.33,"v":-75},{"t":2013.5,"v":-80},{"t":2013.67,"v":-83},{"t":2013.83,"v":-83},{"t":2014,"v":-86},{"t":2014.17,"v":-89},{"t":2014.33,"v":-89},{"t":2014.5,"v":-94},{"t":2014.58,"v":-92},{"t":2014.67,"v":-83},{"t":2014.83,"v":-77},{"t":2015,"v":-83},{"t":2015.17,"v":-77},{"t":2015.33,"v":-86},{"t":2015.5,"v":-80},{"t":2015.67,"v":-83},{"t":2015.83,"v":-77},{"t":2016,"v":-72},{"t":2016.17,"v":-66},{"t":2016.33,"v":-63},{"t":2016.5,"v":-66},{"t":2016.67,"v":-63},{"t":2016.83,"v":-66},{"t":2016.92,"v":-69}],
"f_d": [{"t":2001,"v":45},{"t":2001.08,"v":39},{"t":2001.17,"v":56},{"t":2001.25,"v":68},{"t":2001.33,"v":22},{"t":2001.42,"v":5},{"t":2001.5,"v":2},{"t":2001.58,"v":5},{"t":2001.67,"v":-1},{"t":2001.75,"v":-9},{"t":2001.83,"v":-15},{"t":2001.92,"v":-18},{"t":2002.08,"v":-15},{"t":2002.25,"v":-12},{"t":2002.42,"v":-9},{"t":2002.58,"v":-3},{"t":2002.75,"v":-6},{"t":2002.92,"v":-6},{"t":2003.08,"v":-12},{"t":2003.17,"v":-9},{"t":2003.25,"v":-3},{"t":2003.42,"v":-6},{"t":2003.58,"v":-12},{"t":2003.75,"v":-9},{"t":2003.83,"v":-3},{"t":2003.92,"v":-6},{"t":2004.08,"v":-12},{"t":2004.25,"v":-18},{"t":2004.42,"v":-26},{"t":2004.5,"v":-23},{"t":2004.58,"v":-15},{"t":2004.67,"v":-18},{"t":2004.75,"v":-12},{"t":2004.92,"v":-15},{"t":2005,"v":-9},{"t":2005.08,"v":-12},{"t":2005.17,"v":-3},{"t":2005.25,"v":-9},{"t":2005.33,"v":5},{"t":2005.42,"v":-9},{"t":2005.5,"v":-1},{"t":2005.58,"v":8},{"t":2005.67,"v":5},{"t":2005.75,"v":17},{"t":2005.83,"v":-3},{"t":2005.92,"v":-6},{"t":2006,"v":5},{"t":2006.08,"v":8},{"t":2006.17,"v":17},{"t":2006.25,"v":25},{"t":2006.33,"v":19},{"t":2006.42,"v":11},{"t":2006.5,"v":31},{"t":2006.58,"v":17},{"t":2006.67,"v":25},{"t":2006.75,"v":17},{"t":2006.83,"v":25},{"t":2006.92,"v":19},{"t":2007,"v":5},{"t":2007.08,"v":14},{"t":2007.17,"v":25},{"t":2007.25,"v":31},{"t":2007.33,"v":36},{"t":2007.42,"v":71},{"t":2007.52,"v":59},{"t":2007.58,"v":127},{"t":2007.63,"v":133},{"t":2007.68,"v":88},{"t":2007.75,"v":114},{"t":2007.8,"v":145},{"t":2007.85,"v":133},{"t":2007.92,"v":184},{"t":2007.97,"v":145},{"t":2008.02,"v":88},{"t":2008.08,"v":111},{"t":2008.13,"v":133},{"t":2008.18,"v":128},{"t":2008.25,"v":88},{"t":2008.3,"v":42},{"t":2008.35,"v":76},{"t":2008.42,"v":31},{"t":2008.47,"v":48},{"t":2008.52,"v":65},{"t":2008.58,"v":42},{"t":2008.64,"v":76},{"t":2008.68,"v":258},{"t":2008.72,"v":330},{"t":2008.78,"v":330},{"t":2008.83,"v":145},{"t":2008.88,"v":59},{"t":2008.95,"v":14},{"t":2009,"v":5},{"t":2009.08,"v":2},{"t":2009.17,"v":2},{"t":2009.25,"v":-1},{"t":2009.33,"v":-3},{"t":2009.5,"v":-6},{"t":2009.67,"v":-9},{"t":2009.83,"v":-12},{"t":2010,"v":-15},{"t":2010.17,"v":-12},{"t":2010.33,"v":-9},{"t":2010.42,"v":-3},{"t":2010.5,"v":-9},{"t":2010.58,"v":-12},{"t":2010.75,"v":-9},{"t":2010.92,"v":-6},{"t":2011,"v":-6},{"t":2011.17,"v":-12},{"t":2011.25,"v":-9},{"t":2011.42,"v":-6},{"t":2011.58,"v":-9},{"t":2011.75,"v":-6},{"t":2011.83,"v":-3},{"t":2011.92,"v":-1},{"t":2012.08,"v":-9},{"t":2012.25,"v":-12},{"t":2012.42,"v":-12},{"t":2012.58,"v":-12},{"t":2012.75,"v":-9},{"t":2012.92,"v":-11},{"t":2013.08,"v":-15},{"t":2013.25,"v":-29},{"t":2013.42,"v":-26},{"t":2013.58,"v":-26},{"t":2013.75,"v":-26},{"t":2013.92,"v":-24},{"t":2014.08,"v":-24},{"t":2014.25,"v":-23},{"t":2014.42,"v":-24},{"t":2014.58,"v":-24},{"t":2014.75,"v":-23},{"t":2014.92,"v":-23},{"t":2015.08,"v":-26},{"t":2015.25,"v":-23},{"t":2015.42,"v":-26},{"t":2015.58,"v":-29},{"t":2015.75,"v":-32},{"t":2015.92,"v":-38},{"t":2016.08,"v":-46},{"t":2016.25,"v":-49},{"t":2016.42,"v":-49},{"t":2016.58,"v":-55},{"t":2016.75,"v":-57},{"t":2016.92,"v":-69}]
},
"columns": 3,
"spacing": {"row": 110, "column": 93},
"bounds": "flush",
"resolve": {"scale": {"x": "independent", "y": "independent", "color": "independent", "strokeDash": "independent"}, "legend": {"color": "independent", "strokeDash": "independent"}, "axis": {"x": "independent", "y": "independent"}},
"concat": [
  {"width": 317, "height": 240, "title": {"text": "(a) Log Euro-Dollar"},
   "layer": [
    {"data": {"name": "a_m"}, "mark": {"type": "line", "clip": true, "strokeWidth": 1.3},
     "encoding": {"x": {"field": "t", "type": "quantitative", "scale": {"domain": [2001, 2016.9], "nice": false, "zero": false}, "axis": {"values": [2005, 2010, 2015], "labelExpr": "'Jan-' + slice(toString(datum.value), 2)", "title": null}},
      "y": {"field": "v", "type": "quantitative", "scale": {"domain": [0.605, 1.26], "nice": false, "zero": false}, "axis": {"values": [0.7, 0.8, 0.9, 1, 1.1, 1.2], "labelExpr": "toString(datum.value)", "title": "Bps (Annual)"}},
      "color": {"datum": "Model", "scale": {"domain": ["Model", "w/o ϵσᵘˢ", "Data"], "range": ["#0072BD", "#D95319", "#EDB120"]}, "legend": null},
      "strokeDash": {"datum": "Model", "scale": {"domain": ["Model", "w/o ϵσᵘˢ", "Data"], "range": [[1, 0], [4, 2.5], [1.2, 1.6]]}, "legend": null}}},
    {"data": {"name": "a_w"}, "mark": {"type": "line", "clip": true, "strokeWidth": 1.3},
     "encoding": {"x": {"field": "t", "type": "quantitative", "scale": {"domain": [2001, 2016.9], "nice": false, "zero": false}, "axis": {"orient": "top", "values": [2005, 2010, 2015], "labels": false, "grid": false, "title": null}},
      "y": {"field": "v", "type": "quantitative", "scale": {"domain": [0.605, 1.26], "nice": false, "zero": false}, "axis": {"orient": "right", "values": [0.7, 0.8, 0.9, 1, 1.1, 1.2], "labels": false, "grid": false, "title": null}},
      "color": {"datum": "w/o ϵσᵘˢ", "scale": {"domain": ["Model", "w/o ϵσᵘˢ", "Data"], "range": ["#0072BD", "#D95319", "#EDB120"]}, "legend": null},
      "strokeDash": {"datum": "w/o ϵσᵘˢ", "scale": {"domain": ["Model", "w/o ϵσᵘˢ", "Data"], "range": [[1, 0], [4, 2.5], [1.2, 1.6]]}, "legend": null}}},
    {"data": {"name": "a_m"}, "mark": {"type": "line", "clip": true, "strokeWidth": 1.3},
     "encoding": {"x": {"field": "t", "type": "quantitative", "scale": {"domain": [2001, 2016.9], "nice": false, "zero": false}, "axis": null},
      "y": {"field": "v", "type": "quantitative", "scale": {"domain": [0.605, 1.26], "nice": false, "zero": false}, "axis": null},
      "color": {"datum": "Data", "scale": {"domain": ["Model", "w/o ϵσᵘˢ", "Data"], "range": ["#0072BD", "#D95319", "#EDB120"]}, "legend": null},
      "strokeDash": {"datum": "Data", "scale": {"domain": ["Model", "w/o ϵσᵘˢ", "Data"], "range": [[1, 0], [4, 2.5], [1.2, 1.6]]}, "legend": null}}}
   ],
   "resolve": {"axis": {"x": "independent", "y": "independent"}}},
  {"width": 320, "height": 240, "title": {"text": "(b) 𝒞ℐ𝒫 (reserves)"},
   "layer": [
    {"data": {"values": [{}]}, "mark": {"type": "rule", "color": "#000000", "strokeDash": [5, 3], "strokeWidth": 1.2},
     "encoding": {"y": {"datum": 13, "type": "quantitative", "scale": {"domain": [-142, 250], "nice": false, "zero": false}, "axis": null}}},
    {"data": {"name": "b_m"}, "mark": {"type": "line", "clip": true, "strokeWidth": 1.3},
     "encoding": {"x": {"field": "t", "type": "quantitative", "scale": {"domain": [2001, 2016.9], "nice": false, "zero": false}, "axis": {"values": [2005, 2010, 2015], "labelExpr": "'Jan-' + slice(toString(datum.value), 2)", "title": null}},
      "y": {"field": "v", "type": "quantitative", "scale": {"domain": [-142, 250], "nice": false, "zero": false}, "axis": {"values": [-100, -50, 0, 50, 100, 150, 200, 250], "labelExpr": "toString(datum.value)", "title": "Bps (Annual)"}},
      "color": {"datum": "Model", "scale": {"domain": ["Model", "w/o ϵσᵘˢ", "Data"], "range": ["#0072BD", "#D95319", "#EDB120"]}, "legend": null},
      "strokeDash": {"datum": "Model", "scale": {"domain": ["Model", "w/o ϵσᵘˢ", "Data"], "range": [[1, 0], [4, 2.5], [1.2, 1.6]]}, "legend": null}}},
    {"data": {"name": "b_w"}, "mark": {"type": "line", "clip": true, "strokeWidth": 1.3},
     "encoding": {"x": {"field": "t", "type": "quantitative", "scale": {"domain": [2001, 2016.9], "nice": false, "zero": false}, "axis": {"orient": "top", "values": [2005, 2010, 2015], "labels": false, "grid": false, "title": null}},
      "y": {"field": "v", "type": "quantitative", "scale": {"domain": [-142, 250], "nice": false, "zero": false}, "axis": {"orient": "right", "values": [-100, -50, 0, 50, 100, 150, 200, 250], "labels": false, "grid": false, "title": null}},
      "color": {"datum": "w/o ϵσᵘˢ", "scale": {"domain": ["Model", "w/o ϵσᵘˢ", "Data"], "range": ["#0072BD", "#D95319", "#EDB120"]}, "legend": null},
      "strokeDash": {"datum": "w/o ϵσᵘˢ", "scale": {"domain": ["Model", "w/o ϵσᵘˢ", "Data"], "range": [[1, 0], [4, 2.5], [1.2, 1.6]]}, "legend": null}}},
    {"data": {"name": "b_m"}, "mark": {"type": "line", "clip": true, "strokeWidth": 1.3},
     "encoding": {"x": {"field": "t", "type": "quantitative", "scale": {"domain": [2001, 2016.9], "nice": false, "zero": false}, "axis": null},
      "y": {"field": "v", "type": "quantitative", "scale": {"domain": [-142, 250], "nice": false, "zero": false}, "axis": null},
      "color": {"datum": "Data", "scale": {"domain": ["Model", "w/o ϵσᵘˢ", "Data"], "range": ["#0072BD", "#D95319", "#EDB120"]}, "legend": null},
      "strokeDash": {"datum": "Data", "scale": {"domain": ["Model", "w/o ϵσᵘˢ", "Data"], "range": [[1, 0], [4, 2.5], [1.2, 1.6]]}, "legend": null}}}
   ],
   "resolve": {"axis": {"x": "independent", "y": "independent"}}},
  {"width": 319, "height": 240, "title": {"text": "(c) 𝒞ℐ𝒫 (interbank)"},
   "layer": [
    {"data": {"values": [{}]}, "mark": {"type": "rule", "color": "#000000", "strokeDash": [5, 3], "strokeWidth": 1.2},
     "encoding": {"y": {"datum": 12, "type": "quantitative", "scale": {"domain": [-125, 255], "nice": false, "zero": false}, "axis": null}}},
    {"data": {"name": "c_w"}, "mark": {"type": "line", "clip": true, "strokeWidth": 1.3},
     "encoding": {"x": {"field": "t", "type": "quantitative", "scale": {"domain": [2001, 2016.92], "nice": false, "zero": false}, "axis": {"orient": "top", "values": [2005, 2010, 2015], "labels": false, "grid": false, "title": null}},
      "y": {"field": "v", "type": "quantitative", "scale": {"domain": [-125, 255], "nice": false, "zero": false}, "axis": {"orient": "right", "values": [-100, -50, 0, 50, 100, 150, 200, 250], "labels": false, "grid": false, "title": null}},
      "color": {"datum": "w/o ϵσᵘˢ", "scale": {"domain": ["Model", "w/o ϵσᵘˢ", "Data"], "range": ["#0072BD", "#D95319", "#EDB120"]}},
      "strokeDash": {"datum": "w/o ϵσᵘˢ", "scale": {"domain": ["Model", "w/o ϵσᵘˢ", "Data"], "range": [[1, 0], [4, 2.5], [1.2, 1.6]]}}}},
    {"data": {"name": "c_m"}, "mark": {"type": "line", "clip": true, "strokeWidth": 1.3},
     "encoding": {"x": {"field": "t", "type": "quantitative", "scale": {"domain": [2001, 2016.92], "nice": false, "zero": false}, "axis": {"values": [2005, 2010, 2015], "labelExpr": "'Jan-' + slice(toString(datum.value), 2)", "title": null}},
      "y": {"field": "v", "type": "quantitative", "scale": {"domain": [-125, 255], "nice": false, "zero": false}, "axis": {"values": [-100, -50, 0, 50, 100, 150, 200, 250], "labelExpr": "toString(datum.value)", "title": "Bps (Annual)"}},
      "color": {"datum": "Model", "scale": {"domain": ["Model", "w/o ϵσᵘˢ", "Data"], "range": ["#0072BD", "#D95319", "#EDB120"]}},
      "strokeDash": {"datum": "Model", "scale": {"domain": ["Model", "w/o ϵσᵘˢ", "Data"], "range": [[1, 0], [4, 2.5], [1.2, 1.6]]}}}},
    {"data": {"name": "c_d"}, "mark": {"type": "line", "clip": true, "strokeWidth": 1.3},
     "encoding": {"x": {"field": "t", "type": "quantitative", "scale": {"domain": [2001, 2016.92], "nice": false, "zero": false}, "axis": null},
      "y": {"field": "v", "type": "quantitative", "scale": {"domain": [-125, 255], "nice": false, "zero": false}, "axis": null},
      "color": {"datum": "Data", "scale": {"domain": ["Model", "w/o ϵσᵘˢ", "Data"], "range": ["#0072BD", "#D95319", "#EDB120"]}},
      "strokeDash": {"datum": "Data", "scale": {"domain": ["Model", "w/o ϵσᵘˢ", "Data"], "range": [[1, 0], [4, 2.5], [1.2, 1.6]]}}}}
   ],
   "resolve": {"axis": {"x": "independent", "y": "independent"}}},
  {"width": 317, "height": 240, "title": {"text": "(d) Convenience Yield"},
   "layer": [
    {"data": {"values": [{}]}, "mark": {"type": "rule", "color": "#000000", "strokeDash": [5, 3], "strokeWidth": 1.2},
     "encoding": {"y": {"datum": 199, "type": "quantitative", "scale": {"domain": [29, 313], "nice": false, "zero": false}, "axis": null}}},
    {"data": {"name": "d_m"}, "mark": {"type": "line", "clip": true, "strokeWidth": 1.3},
     "encoding": {"x": {"field": "t", "type": "quantitative", "scale": {"domain": [2001, 2016.9], "nice": false, "zero": false}, "axis": {"values": [2005, 2010, 2015], "labelExpr": "'Jan-' + slice(toString(datum.value), 2)", "title": null}},
      "y": {"field": "v", "type": "quantitative", "scale": {"domain": [29, 313], "nice": false, "zero": false}, "axis": {"values": [50, 100, 150, 200, 250, 300], "labelExpr": "toString(datum.value)", "title": "Bps (Annual)"}},
      "color": {"datum": "Model", "scale": {"domain": ["Model", "w/o ϵσᵘˢ", "Data"], "range": ["#0072BD", "#D95319", "#EDB120"]}, "legend": null},
      "strokeDash": {"datum": "Model", "scale": {"domain": ["Model", "w/o ϵσᵘˢ", "Data"], "range": [[1, 0], [4, 2.5], [1.2, 1.6]]}, "legend": null}}},
    {"data": {"name": "d_w"}, "mark": {"type": "line", "clip": true, "strokeWidth": 1.3},
     "encoding": {"x": {"field": "t", "type": "quantitative", "scale": {"domain": [2001, 2016.9], "nice": false, "zero": false}, "axis": {"orient": "top", "values": [2005, 2010, 2015], "labels": false, "grid": false, "title": null}},
      "y": {"field": "v", "type": "quantitative", "scale": {"domain": [29, 313], "nice": false, "zero": false}, "axis": {"orient": "right", "values": [50, 100, 150, 200, 250, 300], "labels": false, "grid": false, "title": null}},
      "color": {"datum": "w/o ϵσᵘˢ", "scale": {"domain": ["Model", "w/o ϵσᵘˢ", "Data"], "range": ["#0072BD", "#D95319", "#EDB120"]}, "legend": null},
      "strokeDash": {"datum": "w/o ϵσᵘˢ", "scale": {"domain": ["Model", "w/o ϵσᵘˢ", "Data"], "range": [[1, 0], [4, 2.5], [1.2, 1.6]]}, "legend": null}}},
    {"data": {"name": "d_m"}, "mark": {"type": "line", "clip": true, "strokeWidth": 1.3},
     "encoding": {"x": {"field": "t", "type": "quantitative", "scale": {"domain": [2001, 2016.9], "nice": false, "zero": false}, "axis": null},
      "y": {"field": "v", "type": "quantitative", "scale": {"domain": [29, 313], "nice": false, "zero": false}, "axis": null},
      "color": {"datum": "Data", "scale": {"domain": ["Model", "w/o ϵσᵘˢ", "Data"], "range": ["#0072BD", "#D95319", "#EDB120"]}, "legend": null},
      "strokeDash": {"datum": "Data", "scale": {"domain": ["Model", "w/o ϵσᵘˢ", "Data"], "range": [[1, 0], [4, 2.5], [1.2, 1.6]]}, "legend": null}}}
   ],
   "resolve": {"axis": {"x": "independent", "y": "independent"}}},
  {"width": 320, "height": 240, "title": {"text": "(e) Ted (interbank) Spread"},
   "layer": [
    {"data": {"name": "e_w"}, "mark": {"type": "line", "clip": true, "strokeWidth": 1.3},
     "encoding": {"x": {"field": "t", "type": "quantitative", "scale": {"domain": [2001, 2016.9], "nice": false, "zero": false}, "axis": {"orient": "top", "values": [2005, 2010, 2015], "labels": false, "grid": false, "title": null}},
      "y": {"field": "v", "type": "quantitative", "scale": {"domain": [-30, 292], "nice": false, "zero": false}, "axis": {"orient": "right", "values": [0, 50, 100, 150, 200, 250], "labels": false, "grid": false, "title": null}},
      "color": {"datum": "w/o ϵσᵘˢ", "scale": {"domain": ["Model", "w/o ϵσᵘˢ", "Data"], "range": ["#0072BD", "#D95319", "#EDB120"]}, "legend": null},
      "strokeDash": {"datum": "w/o ϵσᵘˢ", "scale": {"domain": ["Model", "w/o ϵσᵘˢ", "Data"], "range": [[1, 0], [4, 2.5], [1.2, 1.6]]}, "legend": null}}},
    {"data": {"name": "e_m"}, "mark": {"type": "line", "clip": true, "strokeWidth": 1.3},
     "encoding": {"x": {"field": "t", "type": "quantitative", "scale": {"domain": [2001, 2016.9], "nice": false, "zero": false}, "axis": {"values": [2005, 2010, 2015], "labelExpr": "'Jan-' + slice(toString(datum.value), 2)", "title": null}},
      "y": {"field": "v", "type": "quantitative", "scale": {"domain": [-30, 292], "nice": false, "zero": false}, "axis": {"values": [0, 50, 100, 150, 200, 250], "labelExpr": "toString(datum.value)", "title": "Dev from Mean - Bps (Annual)"}},
      "color": {"datum": "Model", "scale": {"domain": ["Model", "w/o ϵσᵘˢ", "Data"], "range": ["#0072BD", "#D95319", "#EDB120"]}, "legend": null},
      "strokeDash": {"datum": "Model", "scale": {"domain": ["Model", "w/o ϵσᵘˢ", "Data"], "range": [[1, 0], [4, 2.5], [1.2, 1.6]]}, "legend": null}}},
    {"data": {"name": "e_d"}, "mark": {"type": "line", "clip": true, "strokeWidth": 1.3},
     "encoding": {"x": {"field": "t", "type": "quantitative", "scale": {"domain": [2001, 2016.9], "nice": false, "zero": false}, "axis": null},
      "y": {"field": "v", "type": "quantitative", "scale": {"domain": [-30, 292], "nice": false, "zero": false}, "axis": null},
      "color": {"datum": "Data", "scale": {"domain": ["Model", "w/o ϵσᵘˢ", "Data"], "range": ["#0072BD", "#D95319", "#EDB120"]}, "legend": null},
      "strokeDash": {"datum": "Data", "scale": {"domain": ["Model", "w/o ϵσᵘˢ", "Data"], "range": [[1, 0], [4, 2.5], [1.2, 1.6]]}, "legend": null}}}
   ],
   "resolve": {"axis": {"x": "independent", "y": "independent"}}},
  {"width": 319, "height": 240, "title": {"text": "(f) Funding Spread"},
   "layer": [
    {"data": {"name": "f_w"}, "mark": {"type": "line", "clip": true, "strokeWidth": 1.3},
     "encoding": {"x": {"field": "t", "type": "quantitative", "scale": {"domain": [2001, 2016.92], "nice": false, "zero": false}, "axis": {"orient": "top", "values": [2005, 2010, 2015], "labels": false, "grid": false, "title": null}},
      "y": {"field": "v", "type": "quantitative", "scale": {"domain": [-94, 315], "nice": false, "zero": false}, "axis": {"orient": "right", "values": [-50, 0, 50, 100, 150, 200, 250, 300], "labels": false, "grid": false, "title": null}},
      "color": {"datum": "w/o ϵσᵘˢ", "scale": {"domain": ["Model", "w/o ϵσᵘˢ", "Data"], "range": ["#0072BD", "#D95319", "#EDB120"]}, "legend": null},
      "strokeDash": {"datum": "w/o ϵσᵘˢ", "scale": {"domain": ["Model", "w/o ϵσᵘˢ", "Data"], "range": [[1, 0], [4, 2.5], [1.2, 1.6]]}, "legend": null}}},
    {"data": {"name": "f_m"}, "mark": {"type": "line", "clip": true, "strokeWidth": 1.3},
     "encoding": {"x": {"field": "t", "type": "quantitative", "scale": {"domain": [2001, 2016.92], "nice": false, "zero": false}, "axis": {"values": [2005, 2010, 2015], "labelExpr": "'Jan-' + slice(toString(datum.value), 2)", "title": null}},
      "y": {"field": "v", "type": "quantitative", "scale": {"domain": [-94, 315], "nice": false, "zero": false}, "axis": {"values": [-50, 0, 50, 100, 150, 200, 250, 300], "labelExpr": "toString(datum.value)", "title": "Dev from Mean - Bps (Annual)"}},
      "color": {"datum": "Model", "scale": {"domain": ["Model", "w/o ϵσᵘˢ", "Data"], "range": ["#0072BD", "#D95319", "#EDB120"]}, "legend": null},
      "strokeDash": {"datum": "Model", "scale": {"domain": ["Model", "w/o ϵσᵘˢ", "Data"], "range": [[1, 0], [4, 2.5], [1.2, 1.6]]}, "legend": null}}},
    {"data": {"name": "f_d"}, "mark": {"type": "line", "clip": true, "strokeWidth": 1.3},
     "encoding": {"x": {"field": "t", "type": "quantitative", "scale": {"domain": [2001, 2016.92], "nice": false, "zero": false}, "axis": null},
      "y": {"field": "v", "type": "quantitative", "scale": {"domain": [-94, 315], "nice": false, "zero": false}, "axis": null},
      "color": {"datum": "Data", "scale": {"domain": ["Model", "w/o ϵσᵘˢ", "Data"], "range": ["#0072BD", "#D95319", "#EDB120"]}, "legend": null},
      "strokeDash": {"datum": "Data", "scale": {"domain": ["Model", "w/o ϵσᵘˢ", "Data"], "range": [[1, 0], [4, 2.5], [1.2, 1.6]]}, "legend": null}}}
   ],
   "resolve": {"axis": {"x": "independent", "y": "independent"}}}
]
}
